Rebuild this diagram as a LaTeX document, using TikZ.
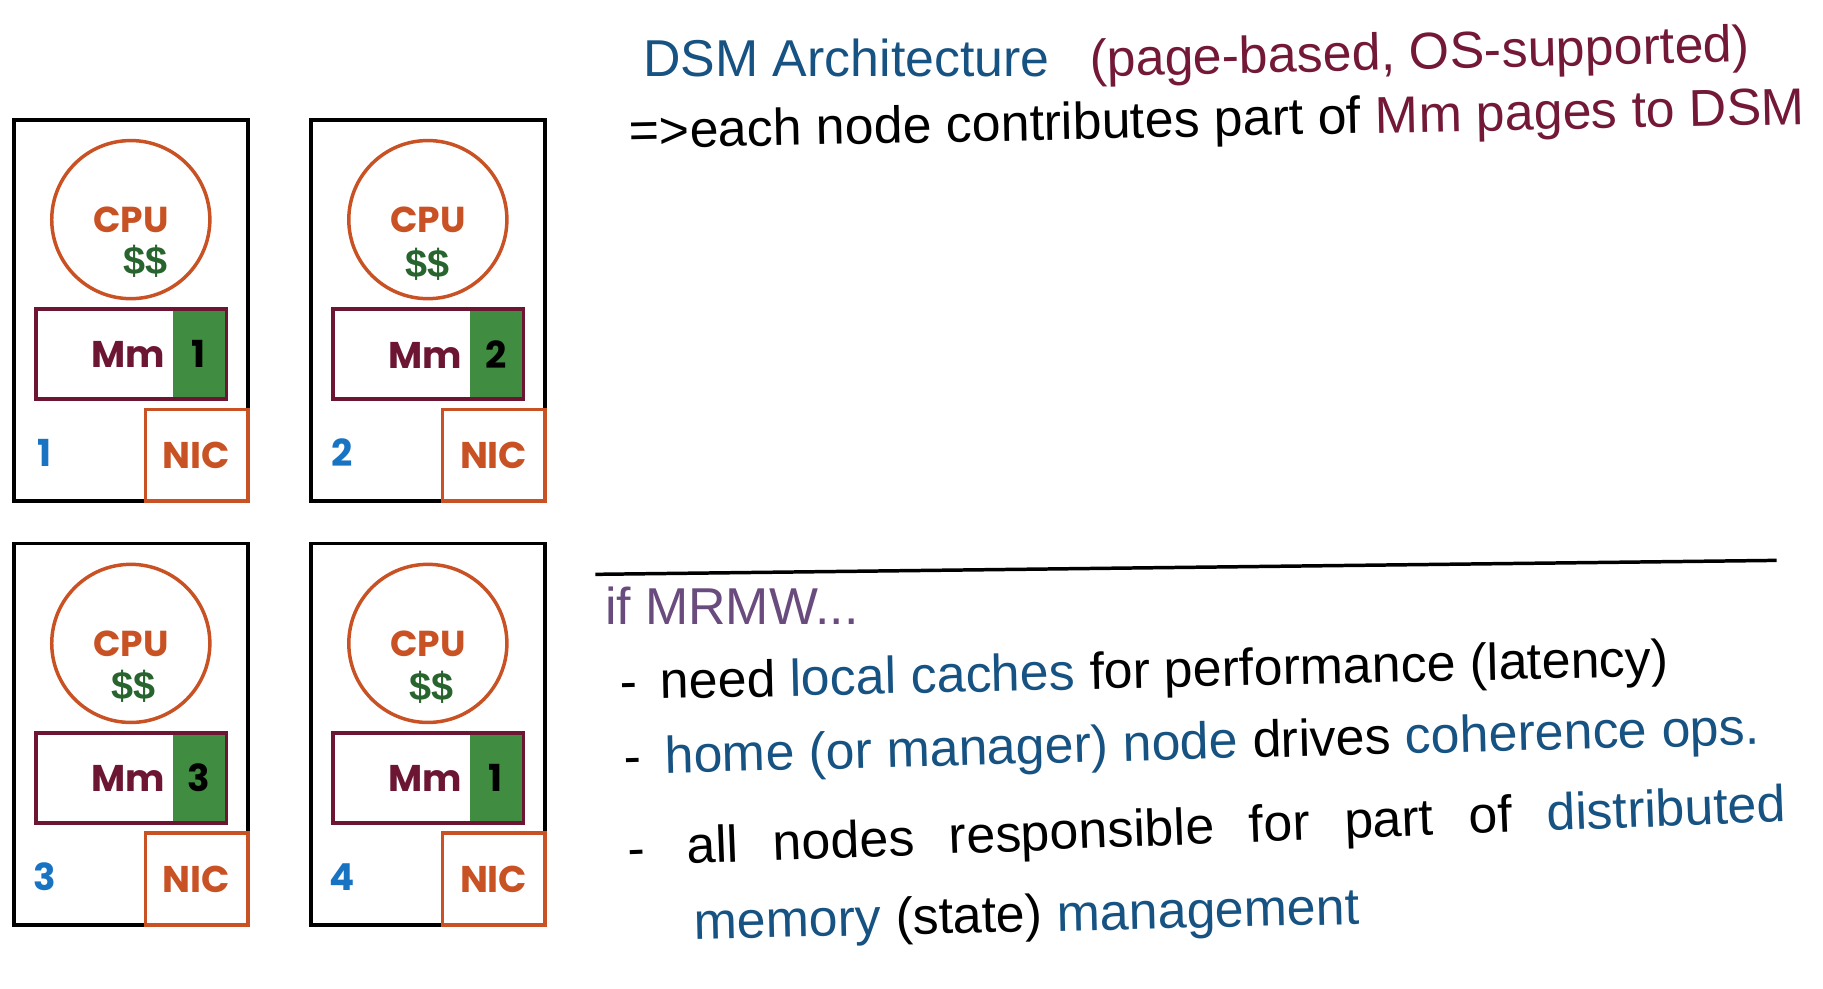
\documentclass[tikz,border=0pt]{standalone}
\usepackage{fontspec}
\usepackage{xcolor}
\usetikzlibrary{positioning}
\newfontfamily\boxfont{Poppins}
\newfontfamily\handfont{Liberation Sans}
\definecolor{cpuorange}{RGB}{201, 82, 36}
\definecolor{memmaroon}{RGB}{108, 22, 52}
\definecolor{pagegreen}{RGB}{64, 140, 64}
\definecolor{cashgreen}{RGB}{40, 100, 45}
\definecolor{idxblue}{RGB}{25, 115, 195}
\definecolor{inkblue}{RGB}{22, 82, 130}
\definecolor{inkmaroon}{RGB}{115, 25, 55}
\definecolor{inkpurple}{RGB}{105, 75, 125}

\begin{document}
\begin{tikzpicture}[
    x=0.5pt, y=-0.5pt,
    machine/.style={rectangle, draw=black, line width=1.6pt, minimum width=100.5pt,
                minimum height=164pt, inner sep=0pt},
    cpu/.style={circle, draw=cpuorange, line width=1.5pt, minimum size=68pt, inner sep=0pt,
                text=cpuorange, font=\boxfont\bfseries\fontsize{15.5}{15.5}\selectfont},
    cash/.style={text=cashgreen, font=\handfont\bfseries\fontsize{17}{17}\selectfont, inner sep=0pt},
    mem/.style={rectangle, draw=memmaroon, line width=1.7pt, minimum width=81.5pt,
                minimum height=38.5pt, inner sep=0pt},
    page/.style={rectangle, fill=pagegreen, minimum width=22.5pt, minimum height=36.8pt,
                inner sep=0pt, font=\boxfont\bfseries\fontsize{16}{16}\selectfont},
    memtext/.style={text=memmaroon, font=\boxfont\bfseries\fontsize{16}{16}\selectfont, inner sep=0pt},
    nic/.style={rectangle, draw=cpuorange, line width=1.5pt, minimum width=44pt,
                minimum height=39.5pt, inner sep=0pt, text=cpuorange,
                font=\boxfont\bfseries\fontsize{16}{16}\selectfont},
    idx/.style={text=idxblue, font=\boxfont\bfseries\fontsize{16}{16}\selectfont, inner sep=0pt},
    hand/.style={anchor=base west, inner sep=0pt, font=\handfont\fontsize{22.3}{26}\selectfont}
]
    \useasboundingbox (0,0) rectangle (1568,850);

    % Node 1
    \node[machine] (m1) at (112.5,267) {};
    \node[cpu, below=9pt of m1.north] (cpu1) {CPU};
    \node[cash] (cash1) at ([shift={(13,36)}]cpu1.center) {\$\$};
    \node[mem, below=3pt of cpu1] (mem1) {};
    \node[page, anchor=east] (pg1) at ([xshift=-0.85pt]mem1.east) {1};
    \node[memtext, anchor=base east] (mm1) at ([xshift=-3pt]pg1.base west) {Mm};
    \node[nic, anchor=south east] (nic1) at (m1.south east) {NIC};
    \node[idx] (id1) at ([shift={(28,-43)}]m1.south west) {1};

    % Node 2
    \node[machine] (m2) at (368,267) {};
    \node[cpu, below=9pt of m2.north] (cpu2) {CPU};
    \node[cash] (cash2) at ([shift={(0,38)}]cpu2.center) {\$\$};
    \node[mem, below=3pt of cpu2] (mem2) {};
    \node[page, anchor=east] (pg2) at ([xshift=-0.85pt]mem2.east) {2};
    \node[memtext, anchor=base east] (mm2) at ([xshift=-3pt]pg2.base west) {Mm};
    \node[nic, anchor=south east] (nic2) at (m2.south east) {NIC};
    \node[idx] (id2) at ([shift={(28,-43)}]m2.south west) {2};

    % Node 3
    \node[machine] (m3) at (112.5,631.5) {};
    \node[cpu, below=9pt of m3.north] (cpu3) {CPU};
    \node[cash] (cash3) at ([shift={(2,37)}]cpu3.center) {\$\$};
    \node[mem, below=3pt of cpu3] (mem3) {};
    \node[page, anchor=east] (pg3) at ([xshift=-0.85pt]mem3.east) {3};
    \node[memtext, anchor=base east] (mm3) at ([xshift=-3pt]pg3.base west) {Mm};
    \node[nic, anchor=south east] (nic3) at (m3.south east) {NIC};
    \node[idx] (id3) at ([shift={(28,-43)}]m3.south west) {3};

    % Node 4
    \node[machine] (m4) at (368,631.5) {};
    \node[cpu, below=9pt of m4.north] (cpu4) {CPU};
    \node[cash] (cash4) at ([shift={(3,38)}]cpu4.center) {\$\$};
    \node[mem, below=3pt of cpu4] (mem4) {};
    \node[page, anchor=east] (pg4) at ([xshift=-0.85pt]mem4.east) {1};
    \node[memtext, anchor=base east] (mm4) at ([xshift=-3pt]pg4.base west) {Mm};
    \node[nic, anchor=south east] (nic4) at (m4.south east) {NIC};
    \node[idx] (id4) at ([shift={(28,-43)}]m4.south west) {4};

    % Notes on top
    \node[hand, text=inkblue] (title) at (553,66) {DSM Architecture};
    \node[hand, text=inkmaroon, rotate=1.3] (pagebased) at ([xshift=17pt]title.base east)
        {(page-based, OS-supported)};
    \node[hand, rotate=1.2] (contrib) at (541,128)
        {=>each node contributes part of \textcolor{inkmaroon}{Mm pages to DSM}};

    % Divider
    \coordinate (rulel) at (512,494);
    \coordinate (ruler) at (1528,482);
    \draw[line width=1.5pt] (rulel) -- (ruler);

    % Notes below
    \node[hand, text=inkpurple] (mrmw) at (520,537) {if MRMW...};
    \node[hand, rotate=1.3] (caches) at (533,602)
        {-\hspace{10pt}need \textcolor{inkblue}{local caches} for performance (latency)};
    \node[hand, rotate=1.5] (home) at (537,666)
        {-\hspace{10pt}\textcolor{inkblue}{home (or manager) node} drives \textcolor{inkblue}{coherence ops.}};
    \node[hand, rotate=2.2] (allnodes) at (540,745)
        {\spaceskip=15pt -\hspace{18pt}all nodes responsible for part of \textcolor{inkblue}{distributed}};
    \node[hand, rotate=1.3] (memstate) at (597,808)
        {\textcolor{inkblue}{memory} (state) \textcolor{inkblue}{management}};
\end{tikzpicture}
\end{document}
